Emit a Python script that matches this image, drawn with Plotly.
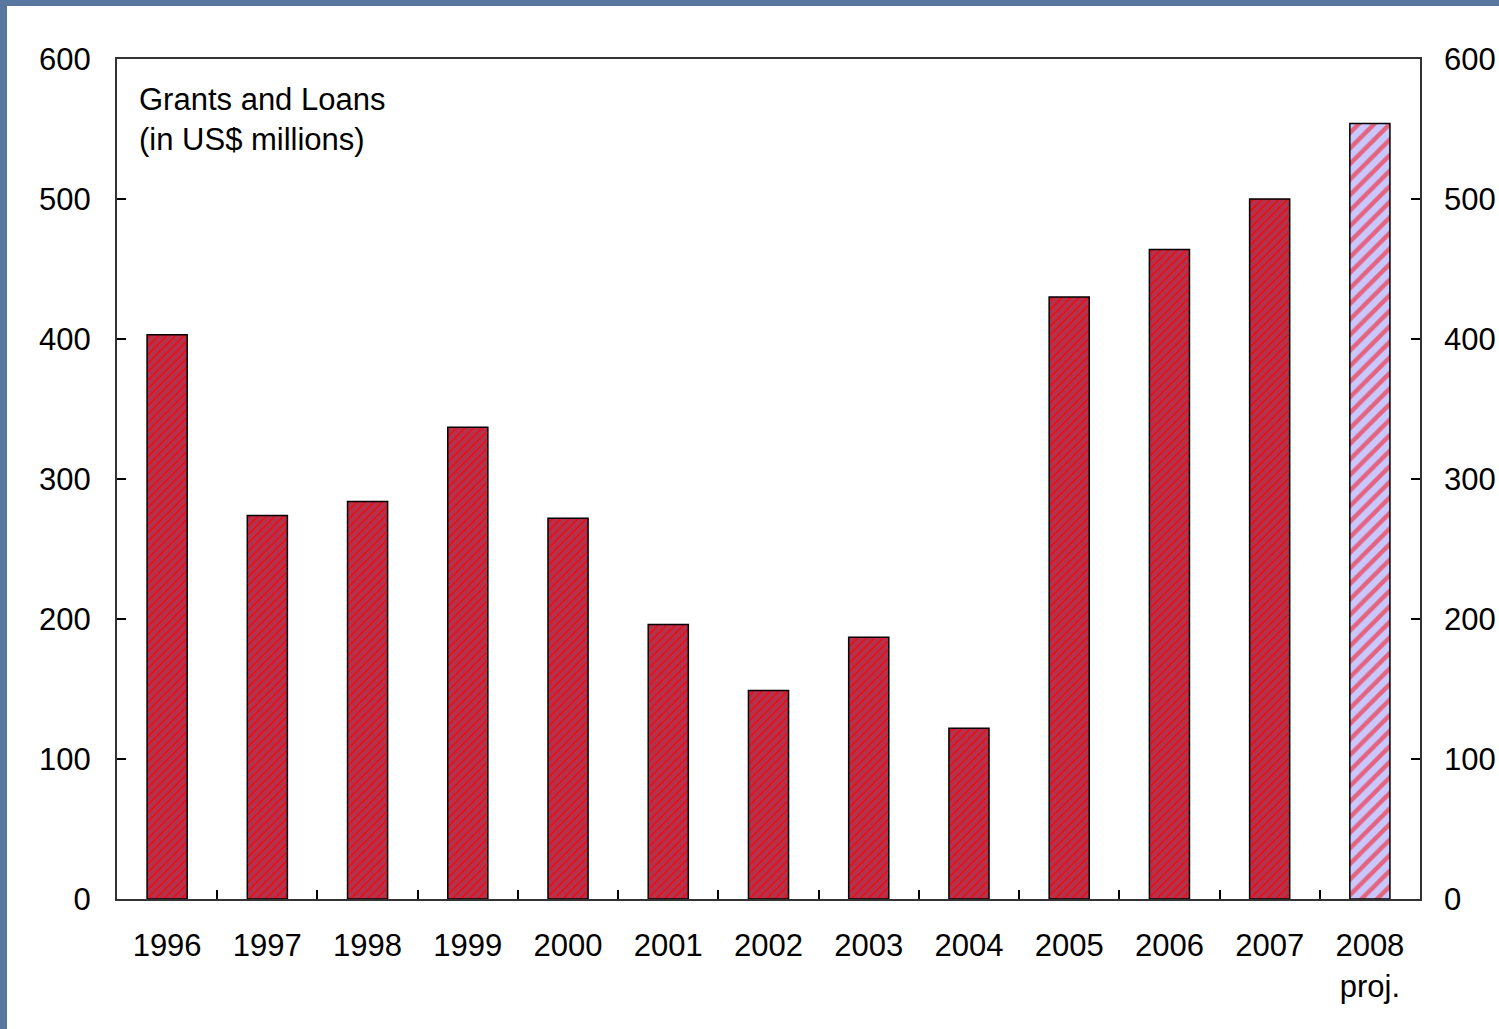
import plotly.graph_objects as go

years = ["1996", "1997", "1998", "1999", "2000", "2001", "2002", "2003", "2004", "2005", "2006", "2007"]
values = [403, 274, 284, 337, 272, 196, 149, 187, 122, 430, 464, 500]
proj_year = ["2008"]
proj_value = [554]
all_years = years + proj_year
tick_labels = ["1996", "1997", "1998", "1999", "2000", "2001", "2002", "2003", "2004", "2005", "2006", "2007", "2008<br>proj."]
y_ticks = [0, 100, 200, 300, 400, 500, 600]

W, H = 1499, 1029
L, R, T, B = 117, 79, 59, 130
pw, ph = W - L - R, H - T - B

font = dict(family="Liberation Sans, Arial, sans-serif", size=31, color="#000000")

fig = go.Figure()
fig.add_trace(go.Bar(
    x=years, y=values,
    marker=dict(
        color="#ff0000",
        line=dict(color="#000000", width=1.5),
        pattern=dict(shape="/", fgcolor="#66669c", bgcolor="#ff0000",
                     size=6, solidity=0.8, fillmode="overlay"),
    ),
    width=0.4, showlegend=False, hoverinfo="skip",
))
fig.add_trace(go.Bar(
    x=proj_year, y=proj_value,
    marker=dict(
        color="#c8c8ff",
        line=dict(color="#000000", width=1.5),
        pattern=dict(shape="/", fgcolor="#ff0000", bgcolor="#c8c8ff",
                     size=11, solidity=0.4, fillmode="overlay"),
    ),
    width=0.4, showlegend=False, hoverinfo="skip",
))
fig.add_trace(go.Scatter(x=[years[0]], y=[0], yaxis="y2", mode="markers",
                         marker=dict(opacity=0), showlegend=False, hoverinfo="skip"))

def px_x(p):
    return (p - L) / pw

def px_y(p):
    return (H - B - p) / ph

frame = "#5877a0"
fig.add_shape(type="rect", xref="paper", yref="paper", x0=px_x(0), x1=px_x(7), y0=px_y(H), y1=px_y(0),
              fillcolor=frame, line=dict(width=0), layer="below")
fig.add_shape(type="rect", xref="paper", yref="paper", x0=px_x(0), x1=px_x(W), y0=px_y(6), y1=px_y(0),
              fillcolor=frame, line=dict(width=0), layer="below")

fig.add_annotation(text="Grants and Loans<br>(in US$ millions)", xref="paper", yref="paper",
                   x=px_x(137), y=px_y(80), xanchor="left", yanchor="top", align="left",
                   showarrow=False, font=font)

fig.update_layout(
    width=W, height=H,
    margin=dict(l=L, r=R, t=T, b=B, autoexpand=False),
    paper_bgcolor="#ffffff", plot_bgcolor="#ffffff",
    font=font,
    barmode="overlay",
    xaxis=dict(
        categoryorder="array", categoryarray=all_years, range=[-0.5, 12.5],
        tickvals=all_years, ticktext=tick_labels,
        tickson="boundaries", ticks="inside", ticklen=9, tickcolor="#000000", tickwidth=1.5,
        showline=True, linecolor="#333333", linewidth=2, mirror=True,
        showgrid=False, ticklabelstandoff=18, tickfont=font, automargin=False,
    ),
    yaxis=dict(
        range=[0, 600], tickvals=y_ticks,
        ticks="inside", ticklen=9, tickcolor="#000000", tickwidth=1.5,
        showline=True, linecolor="#333333", linewidth=2, mirror=True,
        showgrid=False, zeroline=False, ticklabelstandoff=18, tickfont=font, automargin=False,
    ),
    yaxis2=dict(
        range=[0, 600], tickvals=y_ticks, overlaying="y", side="right",
        ticks="inside", ticklen=9, tickcolor="#000000", tickwidth=1.5,
        showline=False, showgrid=False, zeroline=False, ticklabelstandoff=23, tickfont=font,
        automargin=False,
    ),
)

fig.write_html("out.html", config={"displayModeBar": False},
               post_script="document.body.style.margin='0px';document.body.style.padding='0px';")
